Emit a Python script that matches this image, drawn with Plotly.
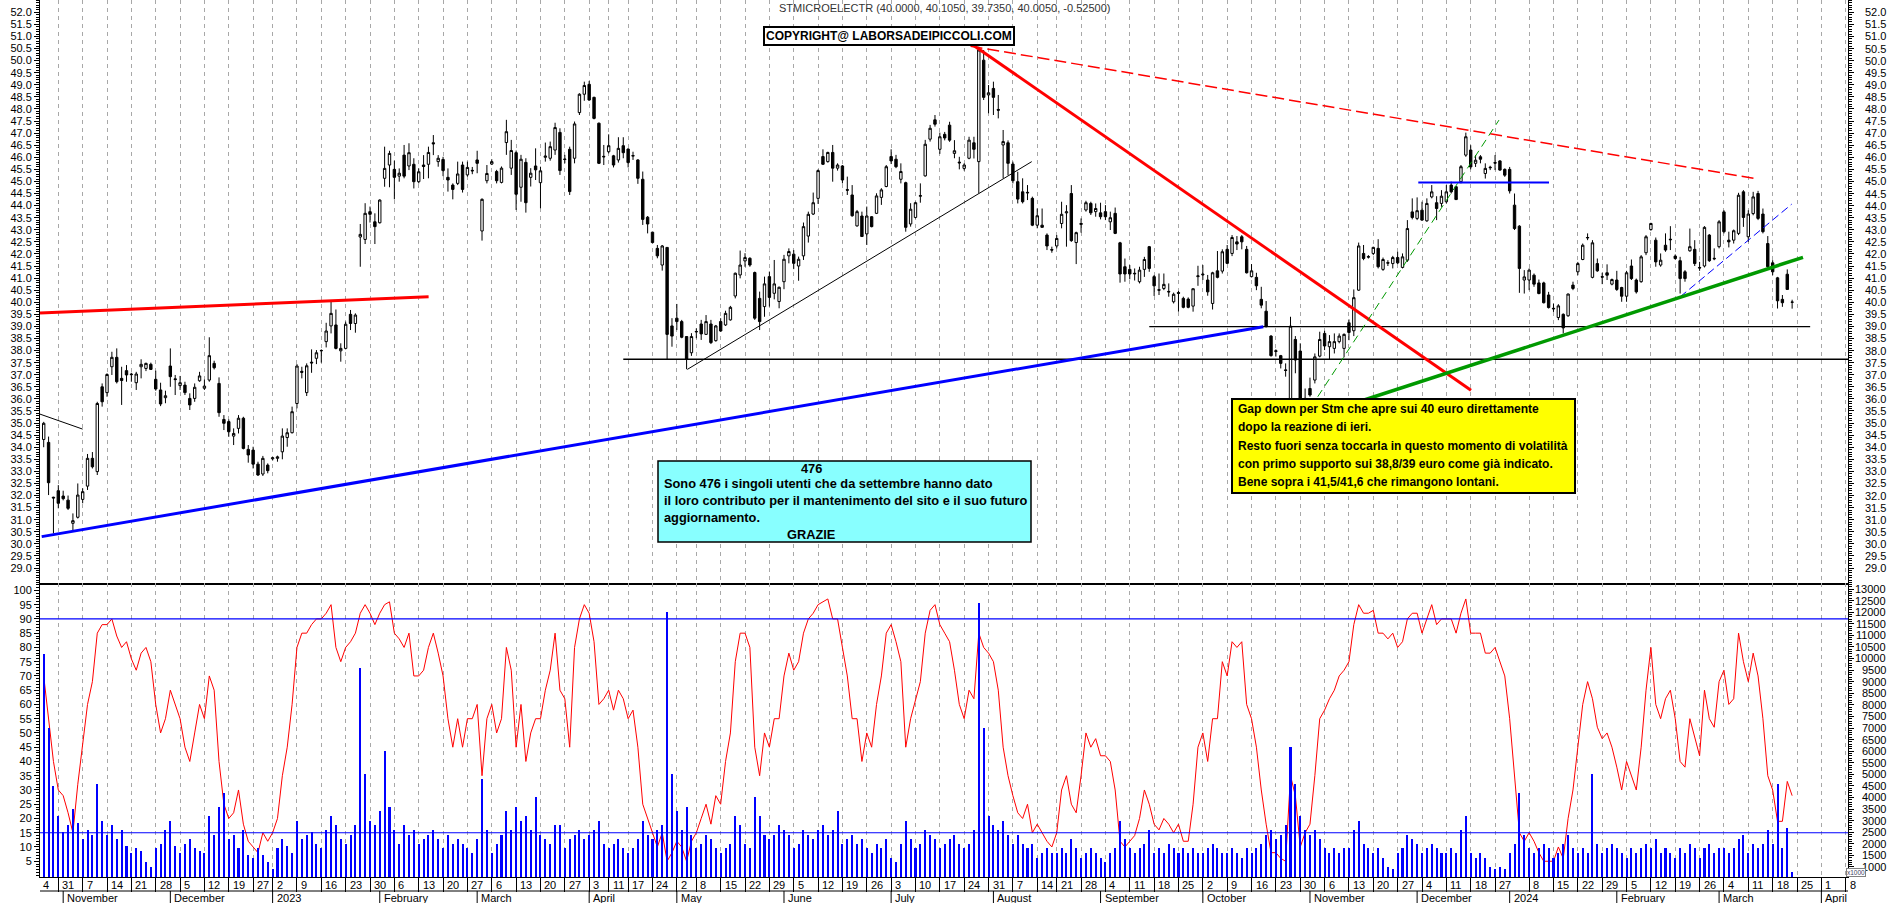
import pandas as pd
import plotly.graph_objects as go

# ---------------- calendar ----------------
holidays = ["2022-12-26", "2023-04-07", "2023-04-10", "2023-05-01", "2023-08-15",
            "2023-12-25", "2023-12-26", "2024-01-01"]
first_day = "2022-10-26"
last_day = "2024-03-22"

# ---------------- daily OHLC (one line per week) ----------------
open_px = [
    34.32, 34.20, 31.93,
    32.20, 31.98, 31.81, 30.85, 31.10,
    31.84, 32.39, 33.54, 32.99, 36.50,
    36.26, 37.33, 37.72, 36.85, 37.17,
    37.00, 36.67, 37.33, 37.26, 37.43,
    36.81, 36.37, 36.05, 37.36, 36.83,
    36.55, 36.57, 36.02, 36.02, 36.75,
    36.44, 36.78, 37.47, 36.64, 35.15,
    35.06, 34.46, 34.78, 35.20, 33.91,
    33.88, 33.30, 32.89, 33.26,
    33.52, 33.54, 33.81, 34.40, 34.60,
    35.81, 37.14, 36.26, 37.52, 37.68,
    37.99, 38.37, 39.02, 39.06, 37.99,
    38.09, 39.50, 39.12, 42.70, 42.60,
    43.75, 43.33, 43.29, 45.13, 45.68,
    45.50, 45.22, 46.09, 45.64, 45.71,
    44.99, 45.68, 45.71, 46.60, 45.82,
    45.91, 45.17, 44.85, 44.92, 45.68,
    45.27, 45.46, 45.89, 42.95, 45.03,
    45.72, 45.41, 44.96, 46.61, 45.55,
    46.19, 44.76, 45.79, 45.17, 45.64,
    44.95, 46.00, 45.96, 46.30, 47.03,
    45.93, 46.33, 45.96, 47.85, 48.61,
    49.02, 48.48, 47.41, 46.04,
    46.23, 46.06, 45.89, 46.48,
    46.34, 46.05, 45.89, 45.09, 43.52,
    42.90, 42.23, 41.54, 42.27, 39.02,
    39.34, 39.20, 38.58, 37.91,
    38.77, 39.10, 38.67, 39.10, 38.41,
    39.20, 39.06, 39.27, 40.26, 41.13,
    41.71, 41.82, 41.23, 40.16, 39.82,
    41.06, 40.37, 40.03, 40.85, 41.92,
    41.99, 41.50, 41.92, 42.74, 43.65,
    44.30, 46.03, 45.82, 46.20, 45.55,
    45.64, 44.66, 44.44, 43.16, 43.57,
    42.83, 43.54, 43.68, 44.34, 44.79,
    46.03, 45.92, 45.09, 44.95, 43.24,
    43.51, 44.39, 45.23, 46.75, 47.55,
    46.33, 46.95, 47.33, 46.16, 45.80,
    45.54, 45.96, 46.60, 45.82, 50.02,
    48.58, 48.85, 47.98, 46.51, 46.60,
    45.72, 44.99, 44.57, 44.55, 44.30,
    43.19, 43.19, 42.78, 42.18,
    42.33, 43.26, 43.70, 44.50, 42.47,
    43.22, 43.82, 44.09, 43.75, 43.70,
    43.75, 43.33, 43.68, 42.46, 41.47,
    41.36, 41.20, 40.85, 41.36, 42.30,
    41.06, 40.52, 40.57, 40.45, 40.02,
    40.40, 40.16, 40.13, 39.84, 41.06,
    41.13, 40.92, 39.95, 41.30, 41.29,
    42.19, 42.02, 42.50, 42.71, 42.19,
    41.06, 41.03, 40.12, 39.63, 38.60,
    37.96, 37.79, 37.20, 35.84, 38.46,
    37.98, 35.74, 36.43, 36.78, 37.77,
    38.71, 38.16, 38.09, 38.37, 38.09,
    39.15, 38.82, 40.50, 42.02, 41.89,
    42.02, 42.23, 41.36, 41.64, 41.60,
    41.85, 41.44, 41.74, 43.74, 43.47,
    43.81, 43.37, 44.36, 44.12, 44.09,
    44.16, 44.85, 44.78, 44.99, 46.09,
    46.30, 45.75, 46.02, 45.33, 45.59,
    45.78, 45.85, 45.50,
    45.50, 44.02, 43.15, 40.92,
    40.92, 41.12, 40.80, 40.80, 40.30,
    39.75, 39.37, 39.50, 39.44, 40.71,
    41.26, 41.77, 42.66, 41.03, 41.60,
    41.06, 41.22, 40.75, 40.92, 40.61,
    40.25, 41.50, 40.92, 40.85, 42.05,
    43.01, 42.57, 41.54, 42.36, 42.61,
    41.91, 41.72, 41.26, 42.13, 42.19,
    41.44, 41.50, 42.78, 41.82, 42.30,
    43.74, 42.57, 42.57, 42.85, 44.57,
    42.71, 43.67, 44.50, 43.65, 42.43,
    41.63, 41.01, 40.12, 41.16, 40.00,
]
high_px = [
    35.05, 34.44, 31.95,
    32.43, 32.20, 32.00, 31.26, 32.50,
    32.30, 33.72, 33.80, 35.88, 36.64,
    37.06, 37.95, 38.09, 37.33, 37.40,
    37.08, 37.12, 37.64, 37.50, 37.50,
    37.17, 36.67, 36.34, 38.09, 36.99,
    36.95, 36.71, 36.23, 36.64, 37.12,
    36.80, 38.55, 37.58, 36.89, 35.33,
    35.15, 34.78, 35.33, 35.26, 34.09,
    34.02, 33.40, 33.64, 33.33,
    33.60, 33.65, 34.78, 34.78, 35.68,
    37.44, 37.33, 37.47, 38.05, 38.02,
    38.05, 39.15, 40.02, 39.70, 38.30,
    39.20, 39.68, 39.54, 43.24, 44.10,
    43.96, 43.68, 44.26, 46.44, 46.27,
    45.86, 45.54, 46.51, 46.58, 45.96,
    45.54, 46.09, 46.44, 46.92, 46.09,
    46.02, 45.54, 44.92, 45.82, 45.82,
    45.82, 45.60, 46.27, 44.30, 45.68,
    45.92, 45.48, 45.62, 47.55, 46.72,
    46.28, 46.10, 45.96, 45.55, 46.37,
    45.61, 46.61, 46.65, 47.43, 47.20,
    46.10, 46.44, 47.48, 48.65, 49.13,
    49.16, 48.51, 47.44, 46.51,
    46.95, 46.10, 46.83, 46.83,
    46.37, 46.23, 45.92, 45.41, 43.57,
    42.92, 42.37, 42.37, 42.27, 39.34,
    39.93, 39.27, 38.60, 38.72,
    38.92, 39.27, 39.47, 39.27, 39.06,
    39.34, 39.65, 39.85, 41.23, 42.14,
    42.03, 41.86, 41.27, 40.44, 41.06,
    41.27, 41.75, 40.65, 41.96, 42.23,
    42.16, 41.89, 43.30, 43.75, 44.54,
    45.50, 46.33, 46.23, 46.51, 45.75,
    45.68, 45.20, 44.85, 43.82, 43.75,
    43.96, 43.57, 44.51, 44.72, 45.68,
    46.33, 46.10, 45.75, 44.99, 44.10,
    44.16, 44.92, 46.72, 47.34, 47.75,
    47.02, 47.05, 47.47, 46.71, 46.02,
    45.75, 46.85, 46.85, 50.58, 50.44,
    48.99, 49.13, 48.58, 47.13, 46.70,
    45.82, 45.40, 45.13, 44.85, 44.37,
    43.88, 43.88, 42.85, 42.30,
    42.78, 44.16, 44.02, 44.85, 42.92,
    43.47, 44.20, 44.16, 44.09, 44.12,
    44.02, 43.75, 43.92, 42.50, 41.81,
    41.54, 41.40, 41.47, 41.88, 42.33,
    41.13, 41.19, 41.19, 40.78, 40.40,
    40.47, 40.23, 40.20, 40.57, 41.51,
    41.54, 41.13, 41.26, 42.12, 42.19,
    42.37, 42.78, 42.74, 42.78, 42.33,
    41.58, 41.22, 40.64, 40.05, 38.64,
    38.05, 37.82, 37.47, 39.40, 38.60,
    38.30, 36.43, 36.88, 37.88, 38.78,
    38.82, 38.64, 38.71, 38.71, 38.71,
    39.29, 40.53, 42.47, 42.37, 41.95,
    42.30, 42.61, 41.85, 41.74, 41.92,
    42.09, 42.02, 43.40, 44.30, 44.34,
    44.16, 44.30, 44.85, 44.39, 44.64,
    44.85, 44.99, 44.81, 45.68, 47.02,
    46.50, 46.09, 46.09, 45.75, 45.65,
    46.09, 45.88, 45.54,
    45.60, 44.50, 43.19, 41.33,
    41.40, 41.19, 40.94, 40.85, 40.43,
    39.95, 39.92, 39.54, 40.36, 40.85,
    41.67, 42.43, 42.85, 42.57, 41.81,
    41.22, 41.57, 40.98, 41.30, 40.64,
    41.30, 41.77, 40.98, 41.95, 42.78,
    43.29, 42.68, 42.02, 42.85, 43.15,
    41.98, 41.88, 41.33, 43.05, 42.57,
    41.67, 43.15, 42.82, 42.23, 43.40,
    43.81, 42.92, 43.01, 44.53, 44.64,
    43.81, 44.57, 44.61, 43.88, 42.74,
    41.74, 41.05, 40.30, 41.36, 40.105,
]
low_px = [
    34.00, 32.02, 30.43,
    31.47, 31.80, 31.40, 30.57, 31.05,
    31.68, 32.23, 33.12, 32.85, 35.68,
    36.09, 36.99, 36.64, 35.75, 36.71,
    36.71, 36.37, 36.85, 37.15, 37.20,
    36.34, 35.70, 35.82, 36.50, 36.16,
    36.37, 36.16, 35.54, 35.88, 36.71,
    36.37, 36.71, 37.22, 35.26, 34.71,
    34.43, 34.09, 34.57, 33.91, 33.36,
    33.12, 32.81, 32.81, 32.92,
    33.45, 33.40, 33.50, 34.02, 34.57,
    35.61, 36.85, 36.12, 37.08, 37.44,
    37.50, 38.13, 38.71, 38.05, 37.54,
    38.05, 38.85, 38.74, 41.47, 42.41,
    43.30, 42.41, 43.26, 44.78, 44.76,
    44.26, 44.99, 45.13, 45.47, 44.71,
    44.92, 45.10, 45.13, 46.09, 45.61,
    45.22, 44.58, 44.26, 44.85, 44.54,
    45.20, 45.30, 45.34, 42.55, 44.92,
    45.68, 44.92, 44.92, 46.10, 45.27,
    43.82, 44.16, 43.71, 44.79, 45.06,
    43.89, 45.82, 45.86, 46.10, 45.27,
    45.75, 44.44, 45.75, 47.75, 48.34,
    48.34, 47.57, 45.72, 45.68,
    46.16, 45.58, 45.78, 45.96,
    45.58, 45.89, 44.90, 43.20, 42.85,
    42.44, 41.82, 41.31, 37.64, 38.16,
    38.85, 38.51, 37.23, 37.78,
    38.51, 38.44, 38.65, 38.27, 38.37,
    38.78, 39.02, 39.24, 40.16, 40.99,
    41.47, 41.47, 39.27, 38.85, 39.40,
    39.82, 40.12, 39.75, 40.54, 41.61,
    41.37, 40.89, 41.75, 42.47, 43.61,
    44.07, 45.68, 45.78, 44.99, 45.45,
    44.92, 44.44, 43.54, 43.13, 42.72,
    42.37, 43.10, 43.65, 44.03, 44.76,
    45.72, 45.55, 44.92, 42.92, 43.13,
    43.47, 44.12, 45.20, 46.65, 47.27,
    46.14, 46.70, 46.64, 45.96, 45.50,
    45.45, 45.92, 45.95, 44.51, 48.37,
    47.82, 47.75, 47.61, 45.13, 45.26,
    44.92, 44.09, 44.09, 44.23, 43.15,
    43.06, 43.10, 42.16, 42.05,
    42.23, 43.06, 42.30, 42.50, 41.58,
    42.88, 43.75, 43.61, 43.54, 43.43,
    43.40, 42.99, 42.82, 40.81, 40.85,
    40.95, 40.90, 40.78, 41.05, 41.26,
    40.26, 40.30, 40.50, 40.23, 39.95,
    39.61, 39.75, 39.75, 39.61, 40.68,
    40.92, 40.27, 39.70, 40.99, 41.19,
    41.58, 41.91, 42.16, 42.19, 41.19,
    41.03, 40.50, 39.75, 38.96, 37.75,
    37.75, 37.26, 36.92, 35.19, 37.06,
    35.26, 35.54, 36.09, 36.64, 37.72,
    38.02, 37.63, 37.88, 38.30, 37.72,
    38.43, 38.60, 40.47, 41.74, 41.81,
    41.95, 41.40, 41.30, 41.50, 41.40,
    41.58, 41.40, 41.67, 43.43, 43.40,
    43.37, 43.33, 44.30, 43.40, 43.95,
    44.09, 44.50, 44.23, 44.92, 46.02,
    45.50, 45.60, 45.75, 45.12, 45.47,
    45.47, 45.44, 45.19,
    44.50, 42.99, 40.39, 40.36,
    40.50, 40.64, 40.33, 39.95, 39.74,
    39.60, 39.26, 38.71, 39.40, 40.50,
    41.12, 41.74, 42.57, 40.99, 41.26,
    40.75, 40.92, 40.70, 40.47, 40.02,
    40.02, 40.92, 40.36, 40.81, 41.95,
    42.96, 41.47, 41.47, 42.09, 42.16,
    41.76, 40.36, 40.85, 42.09, 41.50,
    41.30, 41.44, 41.67, 41.74, 42.23,
    42.85, 42.27, 42.43, 42.78, 43.12,
    42.50, 43.60, 43.40, 42.85, 41.40,
    41.12, 39.74, 39.81, 40.53, 39.735,
]
close_px = [
    34.99, 32.53, 31.90,
    31.68, 31.87, 31.47, 30.96, 32.02,
    32.16, 33.54, 33.19, 35.81, 35.88,
    37.01, 37.72, 36.71, 36.76, 36.99,
    37.02, 37.03, 37.43, 37.47, 37.22,
    36.41, 35.79, 36.13, 36.92, 36.80,
    36.67, 36.26, 35.75, 36.48, 36.95,
    36.53, 37.79, 37.29, 35.43, 34.99,
    34.64, 34.57, 35.20, 33.95, 33.68,
    33.30, 32.85, 33.54, 33.03,
    33.56, 33.60, 34.46, 34.60, 35.47,
    37.36, 37.10, 37.37, 37.49, 37.91,
    38.00, 38.81, 39.54, 38.09, 38.09,
    39.09, 39.12, 39.47, 42.81, 43.68,
    43.64, 43.13, 44.23, 45.54, 46.16,
    45.17, 45.34, 45.22, 46.19, 44.99,
    45.40, 45.62, 46.20, 46.56, 45.96,
    45.45, 45.06, 44.67, 45.31, 44.67,
    45.58, 45.44, 45.75, 44.26, 45.33,
    45.82, 45.03, 45.55, 47.06, 46.28,
    44.47, 45.92, 44.12, 45.34, 45.48,
    45.44, 46.05, 46.44, 47.23, 45.45,
    45.91, 44.58, 47.38, 48.61, 48.97,
    48.37, 47.61, 45.75, 46.02,
    46.48, 45.68, 46.37, 46.19,
    45.78, 46.07, 45.13, 43.43, 43.24,
    42.47, 41.92, 42.33, 38.67, 38.60,
    39.20, 38.55, 37.64, 38.58,
    38.79, 38.69, 39.20, 38.33, 39.02,
    38.81, 39.54, 39.79, 41.20, 41.54,
    41.85, 41.54, 39.34, 39.20, 40.76,
    40.20, 40.76, 40.62, 41.78, 42.10,
    41.61, 41.78, 43.13, 43.64, 44.12,
    45.45, 45.71, 46.20, 45.55, 45.68,
    45.06, 44.64, 43.58, 43.75, 42.72,
    43.57, 43.13, 44.40, 44.65, 45.61,
    45.85, 45.61, 45.41, 43.10, 43.85,
    44.12, 44.41, 46.54, 47.20, 47.37,
    46.85, 46.80, 46.71, 46.27, 45.77,
    45.68, 46.71, 46.33, 50.44, 48.48,
    48.67, 48.48, 47.95, 46.65, 45.75,
    45.03, 44.27, 44.16, 44.53, 43.19,
    43.58, 43.10, 42.33, 42.16,
    42.64, 43.64, 43.74, 42.55, 42.88,
    43.26, 44.12, 43.70, 43.88, 43.54,
    43.54, 43.50, 42.85, 41.17, 41.17,
    41.17, 41.18, 41.33, 41.77, 41.40,
    40.68, 40.50, 40.74, 40.43, 40.33,
    40.37, 39.79, 39.79, 40.56, 41.09,
    41.16, 40.43, 41.22, 41.03, 42.09,
    41.61, 42.68, 42.41, 42.50, 41.22,
    41.30, 40.68, 39.88, 38.99, 37.79,
    37.99, 37.47, 37.18, 39.01, 37.61,
    35.29, 36.02, 36.16, 37.74, 38.46,
    38.19, 38.37, 38.37, 38.60, 38.67,
    38.75, 40.19, 42.33, 41.81, 41.87,
    42.27, 41.47, 41.77, 41.62, 41.85,
    41.63, 41.88, 43.05, 43.51, 43.79,
    43.40, 44.09, 44.57, 43.88, 44.39,
    44.57, 44.57, 44.25, 45.61, 46.85,
    45.60, 45.88, 45.92, 45.54, 45.57,
    45.76, 45.47, 45.26,
    44.61, 43.05, 41.40, 41.05,
    41.33, 40.75, 40.36, 39.98, 39.78,
    39.73, 39.85, 38.94, 40.34, 40.57,
    41.60, 42.36, 42.68, 42.46, 41.30,
    41.04, 41.12, 40.94, 40.53, 40.25,
    41.22, 40.98, 40.43, 41.88, 42.71,
    43.26, 41.67, 41.74, 42.16, 42.59,
    41.81, 40.98, 40.98, 42.30, 41.60,
    41.42, 43.10, 41.72, 41.80, 43.33,
    42.92, 42.50, 42.96, 44.43, 43.51,
    43.65, 44.36, 43.47, 42.92, 41.47,
    41.26, 40.06, 39.98, 40.53, 40.005,
]

# ---------------- lower panel: oscillator (left scale) and volume (x1000, right scale) ----------------
oscillator = [
    70, 55, 40,
    30, 28, 22, 15, 32,
    45, 60, 68, 85, 88,
    88, 90, 84, 80, 82,
    76, 72, 78, 80, 75,
    60, 50, 55, 65, 60,
    55, 45, 40, 50, 60,
    55, 70, 65, 40, 25,
    20, 22, 30, 18, 12,
    10, 8, 15, 12,
    15, 20, 35, 45, 60,
    80, 85, 85, 88, 90,
    90, 92, 95, 80, 75,
    80, 82, 85, 92, 95,
    92, 88, 92, 95, 96,
    85, 83, 80, 85, 70,
    70, 72, 80, 85, 78,
    70, 55, 45, 55, 45,
    55, 55, 60, 35, 55,
    60, 50, 55, 80, 72,
    45, 60, 40, 50, 55,
    55, 65, 72, 85, 65,
    62, 45, 80, 90, 95,
    92, 82, 60, 62,
    65, 58, 65, 62,
    55, 58, 45, 25, 20,
    15, 10, 15, 5, 8,
    12, 10, 5, 12,
    15, 20, 25, 18, 28,
    25, 40, 50, 75, 85,
    85, 80, 45, 35, 50,
    45, 55, 55, 70, 78,
    72, 75, 85, 90, 92,
    95, 96, 97, 90, 90,
    80, 70, 55, 55, 40,
    50, 45, 60, 70, 85,
    88, 82, 75, 45, 55,
    62, 68, 85, 93, 95,
    88, 85, 82, 72, 60,
    55, 65, 62, 85, 80,
    78, 75, 65, 45, 35,
    28, 22, 20, 25, 15,
    18, 15, 12, 10,
    15, 30, 35, 25, 22,
    35, 50, 45, 48, 42,
    42, 40, 30, 12, 10,
    12, 14, 20, 30, 25,
    18, 16, 20, 18, 15,
    18, 12, 12, 25, 45,
    50, 40, 55, 55, 75,
    70, 82, 80, 82, 60,
    55, 45, 30, 18, 8,
    8, 6, 5, 35, 28,
    10, 15, 18, 35, 55,
    58, 62, 65, 70, 72,
    75, 88, 95, 92, 92,
    93, 85, 85, 83, 85,
    80, 82, 90, 92, 92,
    85, 90, 95, 88, 90,
    90, 90, 85, 92, 97,
    85, 85, 85, 78, 78,
    80, 75, 70,
    55, 35, 15, 12,
    15, 12, 8, 5, 5,
    5, 10, 6, 20, 30,
    45, 60, 68, 62, 52,
    48, 50, 45, 38, 30,
    40, 35, 30, 45, 65,
    80, 60, 55, 62, 65,
    55, 40, 38, 55, 48,
    42, 65, 55, 52, 68,
    72, 60, 62, 85, 75,
    68, 78, 70, 55, 35,
    30, 19, 19, 33, 28,
]
volume_k = [
    10.2, 7.0, 4.5,
    3.2, 2.5, 2.8, 3.5, 2.9,
    2.2, 2.6, 2.4, 4.6, 3.0,
    2.4, 2.8, 2.2, 2.6, 1.9,
    1.6, 1.8, 1.7, 1.2, 1.0,
    1.8, 2.0, 2.6, 3.0, 1.9,
    1.6, 2.0, 2.2, 1.8, 1.7,
    1.6, 3.2, 2.4, 3.6, 4.2,
    2.2, 2.4, 1.8, 2.6, 1.5,
    1.4, 1.8, 1.5, 1.2,
    0.9, 1.8, 2.2, 1.9, 1.6,
    3.0, 2.2, 2.4, 2.5, 2.0,
    1.8, 2.6, 3.2, 2.8, 2.2,
    2.0, 2.4, 2.8, 9.6, 5.0,
    3.0, 2.8, 3.4, 6.0, 3.6,
    2.6, 2.0, 2.8, 2.4, 2.6,
    2.0, 2.2, 2.4, 2.6, 2.2,
    1.8, 2.4, 2.0, 2.2, 2.0,
    1.8, 1.6, 2.2, 4.8, 2.6,
    1.6, 2.0, 2.4, 3.4, 2.6,
    3.6, 3.0, 3.2, 2.6, 4.0,
    2.4, 2.2, 2.0, 2.8, 2.8,
    1.8, 2.2, 2.4, 2.6, 2.2,
    2.4, 2.6, 3.0, 2.0,
    1.8, 2.0, 2.2, 1.8,
    1.6, 1.8, 2.2, 3.0, 2.4,
    2.2, 2.6, 2.8, 12.0, 5.0,
    3.4, 2.6, 3.6, 2.4,
    1.8, 2.0, 2.4, 2.2, 1.8,
    1.6, 1.8, 2.0, 3.2, 2.8,
    2.0, 1.8, 4.0, 3.2, 2.4,
    2.2, 2.4, 2.8, 2.6, 2.4,
    1.8, 2.0, 2.6, 2.4, 2.2,
    2.6, 2.8, 2.4, 2.6, 3.4,
    2.0, 2.2, 2.4, 2.0, 2.2,
    1.8, 1.6, 2.0, 1.8, 2.2,
    1.4, 1.2, 2.0, 3.0, 2.2,
    1.8, 2.0, 2.6, 2.4, 2.2,
    1.8, 2.0, 2.2, 2.4, 2.0,
    1.8, 2.0, 2.6, 12.4, 7.0,
    3.2, 2.8, 2.6, 3.0, 2.4,
    2.0, 2.4, 2.0, 1.8, 2.0,
    1.4, 1.6, 1.8, 1.6,
    1.6, 1.8, 1.6, 2.2, 1.8,
    1.4, 1.6, 1.8, 1.6, 1.4,
    1.2, 1.6, 1.8, 3.0, 2.2,
    1.8, 1.6, 1.8, 2.0, 2.6,
    1.6, 1.8, 1.6, 2.0, 1.8,
    1.6, 1.8, 1.6, 1.8, 1.6,
    1.6, 1.8, 2.0, 1.8, 1.6,
    1.6, 1.8, 1.6, 1.4, 1.8,
    1.6, 1.8, 2.0, 2.4, 2.6,
    2.2, 2.4, 2.8, 6.2, 4.6,
    3.2, 2.6, 2.4, 2.6, 2.2,
    1.8, 1.6, 1.8, 1.6, 1.8,
    1.8, 2.6, 3.0, 2.0, 1.8,
    1.6, 1.8, 1.4, 1.0, 0.9,
    1.6, 1.8, 2.4, 2.2, 2.0,
    1.6, 1.8, 2.0, 1.8, 1.6,
    1.6, 1.8, 1.6, 2.6, 3.2,
    1.6, 1.4, 1.6, 1.4, 1.0,
    0.9, 1.0, 0.9,
    1.6, 2.0, 4.2, 2.4,
    1.8, 1.6, 1.8, 2.0, 1.8,
    1.4, 1.6, 2.0, 2.4, 1.8,
    1.6, 1.8, 1.6, 5.0, 2.0,
    1.6, 1.8, 2.0, 1.8, 1.6,
    1.4, 1.8, 1.6, 1.8, 2.0,
    1.8, 2.2, 1.6, 1.8, 1.6,
    1.4, 1.8, 1.6, 2.0, 1.8,
    1.4, 1.8, 2.0, 1.6, 1.8,
    1.8, 1.6, 1.8, 2.2, 2.4,
    1.6, 2.0, 1.8, 2.0, 2.6,
    2.0, 4.6, 1.8, 2.7, 0.8,
]

# drawn trend lines: (x0, y0, x1, y1) in trading-day units from 31 Oct 2022, price
trend_black_thin = [(-3.76, 35.37, 4.99, 34.75), (129.15, 37.22, 199.87, 45.82)]
trend_black_hlines = [(116.0, 37.64, 367.5, 37.64), (224.0, 38.99, 359.7, 38.99)]
trend_red_thick = [(-3.76, 39.55, 76.03, 40.23), (188.02, 50.62, 290.06, 36.36)]
trend_red_dashed = [(187.3, 50.60, 348.4, 45.12)]
trend_blue_thick = [(-3.41, 30.30, 247.42, 38.99)]
trend_blue_thin = [(279.24, 44.96, 306.08, 44.96)]
trend_blue_dashed = [(332.98, 40.22, 355.91, 44.06)]
trend_green_thick = [(252.96, 34.96, 358.23, 41.86)]
trend_green_dashed = [(255.67, 35.19, 295.81, 47.54)]
osc_levels = [90, 15]

title_text = "STMICROELECTR (40.0000, 40.1050, 39.7350, 40.0050, -0.52500)"
copyright_text = "COPYRIGHT@ LABORSADEIPICCOLI.COM"
cyan_lines = ["476",
              "Sono 476 i singoli utenti che da settembre hanno dato",
              "il loro contributo per il mantenimento del sito e il suo futuro",
              "aggiornamento.",
              "GRAZIE"]
yellow_lines = ["Gap down per Stm che apre sui 40 euro direttamente",
                "dopo la reazione di ieri.",
                "Resto fuori senza toccarla in questo momento di volatilità",
                "con primo supporto sui 38,8/39 euro come già indicato.",
                "Bene sopra i 41,5/41,6 che rimangono lontani."]
month_names = ["January", "February", "March", "April", "May", "June", "July",
               "August", "September", "October", "November", "December"]

# ---------------- calendar / index ----------------
hol = set(pd.to_datetime(holidays))
cal = [d for d in pd.bdate_range("2022-10-24", last_day) if d not in hol]
cal += list(pd.bdate_range("2024-03-25", "2024-04-12"))
base = cal.index(pd.Timestamp("2022-10-31"))
pos = {d: i - base for i, d in enumerate(cal)}
data_dates = [d for d in cal if pd.Timestamp(first_day) <= d <= pd.Timestamp(last_day)]
x_data = [pos[d] for d in data_dates]
n = min(len(x_data), len(open_px), len(high_px), len(low_px), len(close_px))
n_osc = min(len(x_data), len(oscillator))
n_vol = min(len(x_data), len(volume_k))

XMIN, XMAX = -3.76, 367.47

# first trading day of each week; a week start closer than 4 sessions to the previous one is skipped
week_starts = []
seen = set()
prev = None
for d in cal:
    key = tuple(d.isocalendar())[:2]
    if key not in seen:
        seen.add(key)
        if prev is not None and pos[d] - pos[prev] < 4:
            continue
        week_starts.append(d)
        prev = d
month_starts = []
seenm = set()
for d in cal:
    key = (d.year, d.month)
    if key not in seenm:
        seenm.add(key)
        month_starts.append(d)

week_idx = [pos[d] for d in week_starts if XMIN <= pos[d] <= XMAX]

# ---------------- geometry helpers (pixels -> paper) ----------------
L, R, T, B = 40, 42, 0, 26
W, H = 1890, 903
PW, PH = W - L - R, H - T - B
def pxx(x):
    return (x - L) / PW
def pxy(y):
    return (PH - (y - T)) / PH
def idx2paper(i):
    return (i - XMIN) / (XMAX - XMIN)

SPLIT = pxy(583)

fig = go.Figure()

fig.add_trace(go.Bar(x=x_data[:n_vol], y=[v * 1000 for v in volume_k[:n_vol]], width=0.42,
                     marker=dict(color="#0000ff", line=dict(width=0)),
                     xaxis="x2", yaxis="y4", showlegend=False, hoverinfo="skip"))
fig.add_trace(go.Scatter(x=x_data[:n_osc], y=oscillator[:n_osc], mode="lines",
                         line=dict(color="#ff0000", width=1),
                         xaxis="x2", yaxis="y2", showlegend=False, hoverinfo="skip"))
for lvl in osc_levels:
    fig.add_trace(go.Scatter(x=[XMIN, XMAX], y=[lvl, lvl], mode="lines",
                             line=dict(color="#0000ff", width=1.2),
                             xaxis="x2", yaxis="y2", showlegend=False, hoverinfo="skip"))

fig.add_trace(go.Candlestick(
    x=x_data[:n], open=open_px[:n], high=high_px[:n], low=low_px[:n], close=close_px[:n],
    increasing=dict(line=dict(color="black", width=1), fillcolor="white"),
    decreasing=dict(line=dict(color="black", width=1), fillcolor="black"),
    whiskerwidth=0, xaxis="x", yaxis="y", showlegend=False, hoverinfo="skip"))

def add_lines(lines, color, width, dash="solid"):
    for (x0, y0, x1, y1) in lines:
        fig.add_trace(go.Scatter(x=[x0, x1], y=[y0, y1], mode="lines",
                                 line=dict(color=color, width=width, dash=dash),
                                 xaxis="x", yaxis="y", showlegend=False, hoverinfo="skip"))

add_lines(trend_black_thin, "black", 1)
add_lines(trend_black_hlines, "black", 1.3)
add_lines(trend_red_thick, "#ff0000", 3)
add_lines(trend_red_dashed, "#ff0000", 1.5, "12px,5px")
add_lines(trend_blue_thick, "#0000ff", 3)
add_lines(trend_blue_thin, "#0000ff", 2)
add_lines(trend_blue_dashed, "#0000ff", 1, "8px,4px")
add_lines(trend_green_thick, "#009900", 3.5)
add_lines(trend_green_dashed, "#009900", 1, "8px,5px")

grid = dict(showgrid=True, gridcolor="#a8a8a8", griddash="4px,4px", gridwidth=1)
price_ticks = [29 + 0.5 * k for k in range(47)]
price_minor = [round(28.4 + 0.1 * k, 2) for k in range(242)]
osc_ticks = [5 * k for k in range(1, 21)]
osc_minor = list(range(0, 103))
vol_ticks = [1000 + 500 * k for k in range(25)]
vol_minor = [600 + 100 * k for k in range(127)]

axfont = dict(family="Liberation Sans, Arial, sans-serif", size=11, color="black")

fig.update_layout(
    width=W, height=H, margin=dict(l=L, r=R, t=T, b=B, pad=0, autoexpand=False),
    paper_bgcolor="white", plot_bgcolor="white", showlegend=False, bargap=0,
    font=axfont,
    xaxis=dict(domain=[0, 1], anchor="y", range=[XMIN, XMAX], tickvals=week_idx,
               showticklabels=False, ticks="", showline=True, linecolor="black", linewidth=2,
               zeroline=False, rangeslider=dict(visible=False), fixedrange=True, **grid),
    xaxis2=dict(domain=[0, 1], anchor="y2", range=[XMIN, XMAX], tickvals=week_idx,
                showticklabels=False, ticks="outside", ticklen=14, tickcolor="black", tickwidth=1,
                showline=True, linecolor="black", linewidth=1, zeroline=False, fixedrange=True, **grid),
    yaxis=dict(domain=[SPLIT, 1], anchor="x", range=[28.38, 52.51], tickvals=price_ticks,
               ticktext=[f"{v:.1f}" for v in price_ticks], ticks="outside", ticklen=5,
               tickcolor="black", showline=True, linecolor="black", showgrid=False,
               zeroline=False, tickfont=axfont, fixedrange=True,
               minor=dict(tickvals=price_minor, ticks="outside", ticklen=3, tickcolor="black")),
    yaxis3=dict(overlaying="y", anchor="x", side="right", range=[28.38, 52.51],
                tickvals=price_ticks, showticklabels=False, ticks="outside", ticklen=5,
                tickcolor="black", showline=True, linecolor="black", showgrid=False,
                zeroline=False, fixedrange=True,
                minor=dict(tickvals=price_minor, ticks="outside", ticklen=3, tickcolor="black")),
    yaxis2=dict(domain=[0, SPLIT], anchor="x2", range=[-0.53, 102.6], tickvals=osc_ticks,
                ticktext=[str(v) for v in osc_ticks], ticks="outside", ticklen=5,
                tickcolor="black", showline=True, linecolor="black", showgrid=False,
                zeroline=False, tickfont=axfont, fixedrange=True,
                minor=dict(tickvals=osc_minor, ticks="outside", ticklen=3, tickcolor="black")),
    yaxis4=dict(overlaying="y2", anchor="x2", side="right", range=[568, 13259],
                tickvals=vol_ticks, showticklabels=False, ticks="outside", ticklen=5,
                tickcolor="black", showline=True, linecolor="black", showgrid=False,
                zeroline=False, fixedrange=True,
                minor=dict(tickvals=vol_minor, ticks="outside", ticklen=3, tickcolor="black")),
)
fig.add_trace(go.Scatter(x=[XMIN], y=[30], mode="markers", marker=dict(opacity=0),
                         xaxis="x", yaxis="y3", showlegend=False, hoverinfo="skip"))

ann = []
for v in price_ticks:
    ann.append(dict(x=pxx(1888), y=v, xref="paper", yref="y", xanchor="right", yanchor="middle",
                    text=f"{v:.1f}", showarrow=False, font=axfont))
for v in vol_ticks:
    ann.append(dict(x=pxx(1888), y=v, xref="paper", yref="y4", xanchor="right", yanchor="middle",
                    text=str(v), showarrow=False, font=axfont))

day_y = pxy(884.5)
mon_y = pxy(897.5)
for d in week_starts:
    i = pos[d]
    if i < XMIN:
        if i > XMIN - 6:
            ann.append(dict(x=0, y=day_y, xref="paper", yref="paper", xanchor="left",
                            yanchor="middle", text=str(d.day)[-1], showarrow=False,
                            xshift=1, font=axfont))
        continue
    if i > XMAX:
        continue
    ann.append(dict(x=i, y=day_y, xref="x2", yref="paper", xanchor="left", yanchor="middle",
                    text=str(d.day), showarrow=False, xshift=2, font=axfont))

shapes = []
shapes.append(dict(type="line", xref="paper", yref="paper", x0=0, x1=1,
                   y0=pxy(891), y1=pxy(891), line=dict(color="black", width=1)))
for d in month_starts:
    i = pos[d]
    if i < 0 or i > XMAX:
        continue
    label = str(d.year) if d.month == 1 else month_names[d.month - 1]
    xp = idx2paper(i)
    shapes.append(dict(type="line", xref="paper", yref="paper", x0=xp, x1=xp,
                       y0=pxy(891), y1=pxy(903), line=dict(color="black", width=1)))
    ann.append(dict(x=i, y=mon_y, xref="x2", yref="paper", xanchor="left", yanchor="middle",
                    text=label, showarrow=False, xshift=2, font=axfont))

ann.append(dict(x=pxx(944), y=pxy(8.5), xref="paper", yref="paper", xanchor="center",
                yanchor="middle", text=title_text, showarrow=False,
                font=dict(family="Liberation Sans, Arial, sans-serif", size=11, color="#333333")))
ann.append(dict(x=pxx(889), y=pxy(36.3), xref="paper", yref="paper", xanchor="center",
                yanchor="middle", text="<b>" + copyright_text + "</b>", showarrow=False,
                bgcolor="white", bordercolor="black", borderwidth=2, borderpad=1,
                font=dict(family="Liberation Sans, Arial, sans-serif", size=12, color="black")))

shapes.append(dict(type="rect", xref="paper", yref="paper", x0=pxx(658), x1=pxx(1031),
                   y0=pxy(461), y1=pxy(542), fillcolor="#88ffff",
                   line=dict(color="black", width=1.5), layer="above"))
cy_pos = [468, 484, 500, 517, 534]
for k, t in enumerate(cyan_lines):
    centered = k in (0, 4)
    ann.append(dict(x=pxx(811) if centered else pxx(662), y=pxy(cy_pos[k]), xref="paper",
                    yref="paper", xanchor="center" if centered else "left", yanchor="middle",
                    text="<b>" + t + "</b>", showarrow=False,
                    font=dict(family="Liberation Sans, Arial, sans-serif", size=12.8, color="black")))

shapes.append(dict(type="rect", xref="paper", yref="paper", x0=pxx(1232), x1=pxx(1575),
                   y0=pxy(399), y1=pxy(493), fillcolor="#ffff00",
                   line=dict(color="black", width=2), layer="above"))
yl_pos = [409, 427, 446, 464, 482]
for k, t in enumerate(yellow_lines):
    ann.append(dict(x=pxx(1236), y=pxy(yl_pos[k]), xref="paper", yref="paper",
                    xanchor="left", yanchor="middle", text="<b>" + t + "</b>", showarrow=False,
                    font=dict(family="Liberation Sans, Arial, sans-serif",
                              size=12, color="black")))

ann.append(dict(x=pxx(1856), y=pxy(872), xref="paper", yref="paper", xanchor="center",
                yanchor="middle", text="x1000", showarrow=False, bordercolor="#808080",
                borderwidth=1, borderpad=0, bgcolor="white",
                font=dict(family="Liberation Sans, Arial, sans-serif", size=6.5, color="#404060")))

fig.update_layout(annotations=ann, shapes=shapes)

fig.write_html("out.html", config={"displayModeBar": False, "staticPlot": True},
               post_script="document.body.style.margin='0px';document.body.style.overflow='hidden';")
